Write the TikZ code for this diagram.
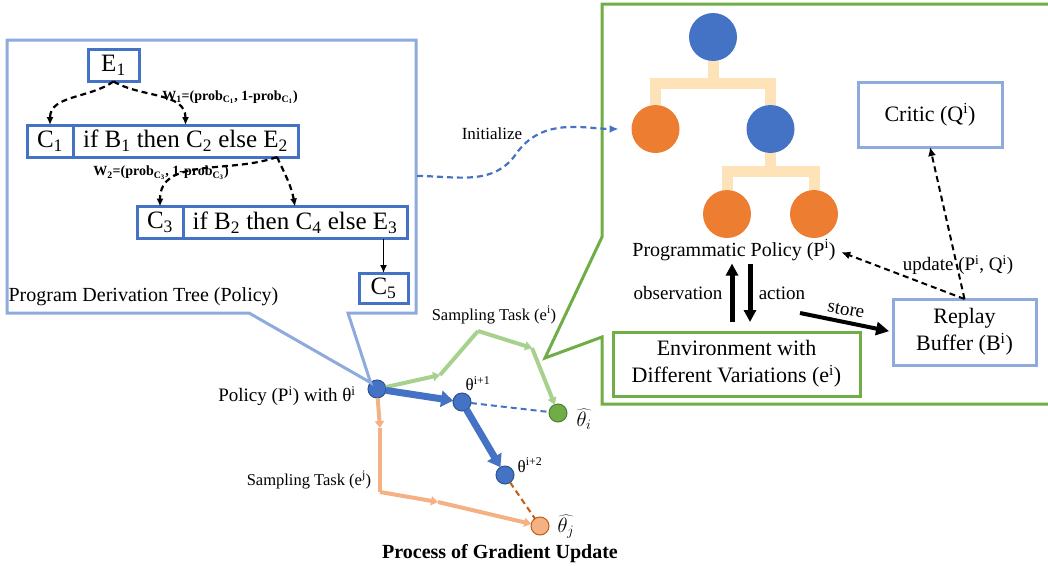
\documentclass[tikz,border=0pt]{standalone}
\usepackage{fontspec}
\setmainfont{Liberation Serif}
\usetikzlibrary{arrows.meta,trees}
\definecolor{tblue}{HTML}{4472C4}
\definecolor{dblue}{HTML}{2F528F}
\definecolor{lblue}{HTML}{8FAADC}
\definecolor{tgreen}{HTML}{70AD47}
\definecolor{dgreen}{HTML}{507E32}
\definecolor{lgreen}{HTML}{A9D18E}
\definecolor{torange}{HTML}{ED7D31}
\definecolor{lorange}{HTML}{F4B183}
\definecolor{dorange}{HTML}{C55A11}
\definecolor{barcol}{HTML}{FFE3B8}
\begin{document}
\begin{tikzpicture}[x=1pt,y=-1pt,
    every node/.style={inner sep=0pt, outer sep=0pt},
    prog/.style={draw=tblue, line width=3pt, fill=white, minimum height=32pt,
      font=\fontsize{25}{27}\selectfont},
    box/.style={draw=lblue, line width=3pt, align=center, fill=white,
      font=\fontsize{22}{27}\selectfont},
    lbl/.style={font=\fontsize{19}{21}\selectfont},
    wlbl/.style={font=\bfseries\fontsize{14}{16}\selectfont},
    smp/.style={font=\fontsize{16.5}{18}\selectfont},
    dashln/.style={dash pattern=on 6pt off 4pt, line width=2.2pt},
    derive/.style={dashln, -{Latex[length=8pt,width=7pt]}},
    pnode/.style={circle, minimum size=48pt},
    dot/.style={circle, minimum size=18pt, line width=1pt},
    bigarrow/.style={line width=5pt, -{Triangle[length=12pt,width=12pt]}},
    grad/.style={tblue, line width=7pt, -{Triangle[length=12pt,width=16pt]}},
    walk/.style={line width=4pt, -{Triangle[length=7pt,width=9pt]}},
    level 1/.style={sibling distance=115pt, level distance=92pt},
    level 2/.style={sibling distance=87pt, level distance=85pt},
    edge from parent/.style={draw=barcol, line width=11pt},
    edge from parent path={(\tikzparentnode.south) -- +(0pt,{24pt-0.5*\tikzleveldistance}) -| (\tikzchildnode.north)}]
  \useasboundingbox (0,0) rectangle (1048,565);
  \node[dot, fill=tblue, draw=dblue] (pol) at (377,389) {};
  \draw[lblue, line width=3pt] (249,313) -- (7,313) -- (7,40) -- (416,40) -- (416,313) -- (348,313) -- (pol.north west) -- cycle;
  \draw[tgreen, line width=3pt] (1048,4) -- (602,4) -- (602,237) -- (545,358) -- (602,337) -- (602,404) -- (1048,404);

  \node[prog, minimum width=51pt] (e1) at (113.5,65.5) {E\textsubscript{1}};
  \node[prog, minimum width=46pt] (c1) at (50,141) {C\textsubscript{1}};
  \node[prog, minimum width=225pt] (if1) at (185.5,141) {if B\textsubscript{1} then C\textsubscript{2} else E\textsubscript{2}};
  \node[prog, minimum width=46pt] (c3) at (160,222.5) {C\textsubscript{3}};
  \node[prog, minimum width=224pt] (if2) at (295,222.5) {if B\textsubscript{2} then C\textsubscript{4} else E\textsubscript{3}};
  \node[prog, minimum width=49pt, minimum height=30pt] (c5) at (383.5,288) {C\textsubscript{5}};
  \coordinate (e2) at (277,157);
  \draw[derive] (e1.south) to[out=215,in=90] (c1.north);
  \draw[derive] (e1.south) to[out=-30,in=90] (if1.north);
  \draw[derive] (e2) to[out=200,in=90] (c3.north);
  \draw[derive] (e2) to[out=-65,in=100] (if2.north);
  \draw[line width=1.5pt, -{Latex[length=8pt,width=7pt]}] (c5.north |- if2.south) -- (c5.north);
  \node[wlbl] (w1) at (230,97) {W\textsubscript{1}=(prob\textsubscript{C\textsubscript{1}}, 1-prob\textsubscript{C\textsubscript{1}})};
  \node[wlbl] (w2) at (161,173) {W\textsubscript{2}=(prob\textsubscript{C\textsubscript{3}}, 1-prob\textsubscript{C\textsubscript{3}})};
  \node[lbl, font=\fontsize{20}{22}\selectfont] (ptree) at (143.5,297) {Program Derivation Tree (Policy)};

  \node[pnode, fill=tblue] (root) at (713,37) {}
    child {node[pnode, fill=torange] (pl) {}}
    child {node[pnode, fill=tblue] (pr) {}
      child {node[pnode, fill=torange] (prl) {}}
      child {node[pnode, fill=torange] (prr) {}}};
  \node[lbl, font=\fontsize{20}{22}\selectfont] (ppol) at (734,250) {Programmatic Policy (P\textsuperscript{i})};
  \node[box, minimum width=144pt, minimum height=65pt] (critic) at (930,114.5) {Critic (Q\textsuperscript{i})};
  \node[box, minimum width=143pt, minimum height=66pt] (rb) at (964.5,332) {Replay\\Buffer (B\textsuperscript{i})};
  \node[box, draw=tgreen, minimum width=247pt, minimum height=64pt] (env) at (736.5,364) {Environment with\\Different Variations (e\textsuperscript{i})};
  \draw[bigarrow, shorten <=10pt, shorten >=3pt] ([xshift=-4.5pt]env.north) -- ([xshift=-4.5pt]env.north |- ppol.south);
  \draw[bigarrow, shorten <=3pt, shorten >=10pt] ([xshift=13.5pt]env.north |- ppol.south) -- ([xshift=13.5pt]env.north);
  \node[lbl] (obs) at (678,293) {observation};
  \node[lbl] (act) at (782,293) {action};
  \coordinate (st) at (800,313);
  \draw[line width=4pt, -{Triangle[length=13pt,width=13pt]}, shorten >=4pt] (st) -- (rb.west);
  \node[lbl, rotate=-10] (store) at (846,310) {store};
  \draw[dashln, line width=2pt, -{Latex[length=9pt,width=8pt]}, shorten >=6pt] (rb.north) -- (ppol.east);
  \draw[dashln, line width=2pt, -{Latex[length=9pt,width=8pt]}] (rb.north) -- (critic.south);
  \node[lbl] (upd) at (958,265) {update (P\textsuperscript{i}, Q\textsuperscript{i})};

  \coordinate (isrc) at (417,176);
  \coordinate (imid) at (516,154);
  \draw[tblue, dashln, -{Latex[length=9pt,width=8pt]}, shorten >=13pt] (isrc) to[out=0,in=235] (imid) to[out=55,in=180] (pl.west);
  \node[lbl, font=\fontsize{17}{19}\selectfont] (init) at (492,134) {Initialize};

  \node[dot, fill=tblue, draw=dblue] (t1) at (462,402) {};
  \node[dot, fill=tblue, draw=dblue] (t2) at (505,475) {};
  \node[dot, fill=tgreen, draw=dgreen] (thi) at (558,413) {};
  \node[dot, fill=lorange, draw=dorange] (thj) at (540,526) {};
  \coordinate (g1) at (440,375);
  \coordinate (g2) at (478,331);
  \coordinate (g3) at (532,348);
  \coordinate (o1) at (380,428);
  \coordinate (o2) at (380,492);
  \coordinate (o3) at (438,502);
  \draw[walk, lgreen] (pol) -- (g1);
  \draw[lgreen, line width=4pt] (g1) -- (g2);
  \draw[walk, lgreen] (g2) -- (g3);
  \draw[walk, lgreen] (g3) -- (thi);
  \draw[walk, lorange] (pol) -- (o1);
  \draw[lorange, line width=4pt] (o1) -- (o2);
  \draw[walk, lorange] (o2) -- (o3);
  \draw[walk, lorange] (o3) -- (thj);
  \draw[tblue, dashln, line width=2pt] (t1) -- (thi);
  \draw[dorange, dashln, line width=2pt] (t2) -- (thj);
  \draw[grad] (pol) -- (t1);
  \draw[grad] (t1) -- (t2);
  \node[lbl] (pollbl) at (287,396) {Policy (P\textsuperscript{i}) with θ\textsuperscript{i}};
  \node[lbl, font=\fontsize{17}{19}\selectfont] (t1lbl) at (478,384) {θ\textsuperscript{i+1}};
  \node[lbl, font=\fontsize{17}{19}\selectfont] (t2lbl) at (530,465) {θ\textsuperscript{i+2}};
  \node[font=\fontsize{22}{24}\selectfont] (thilbl) at (584,419) {$\widehat{\theta_i}$};
  \node[font=\fontsize{22}{24}\selectfont] (thjlbl) at (566,527) {$\widehat{\theta_j}$};
  \node[smp] (smpi) at (494,315) {Sampling Task (e\textsuperscript{i})};
  \node[smp] (smpj) at (309,480) {Sampling Task (e\textsuperscript{j})};
  \node[font=\bfseries\fontsize{20}{22}\selectfont] (title) at (500,554) {Process of Gradient Update};
\end{tikzpicture}
\end{document}
